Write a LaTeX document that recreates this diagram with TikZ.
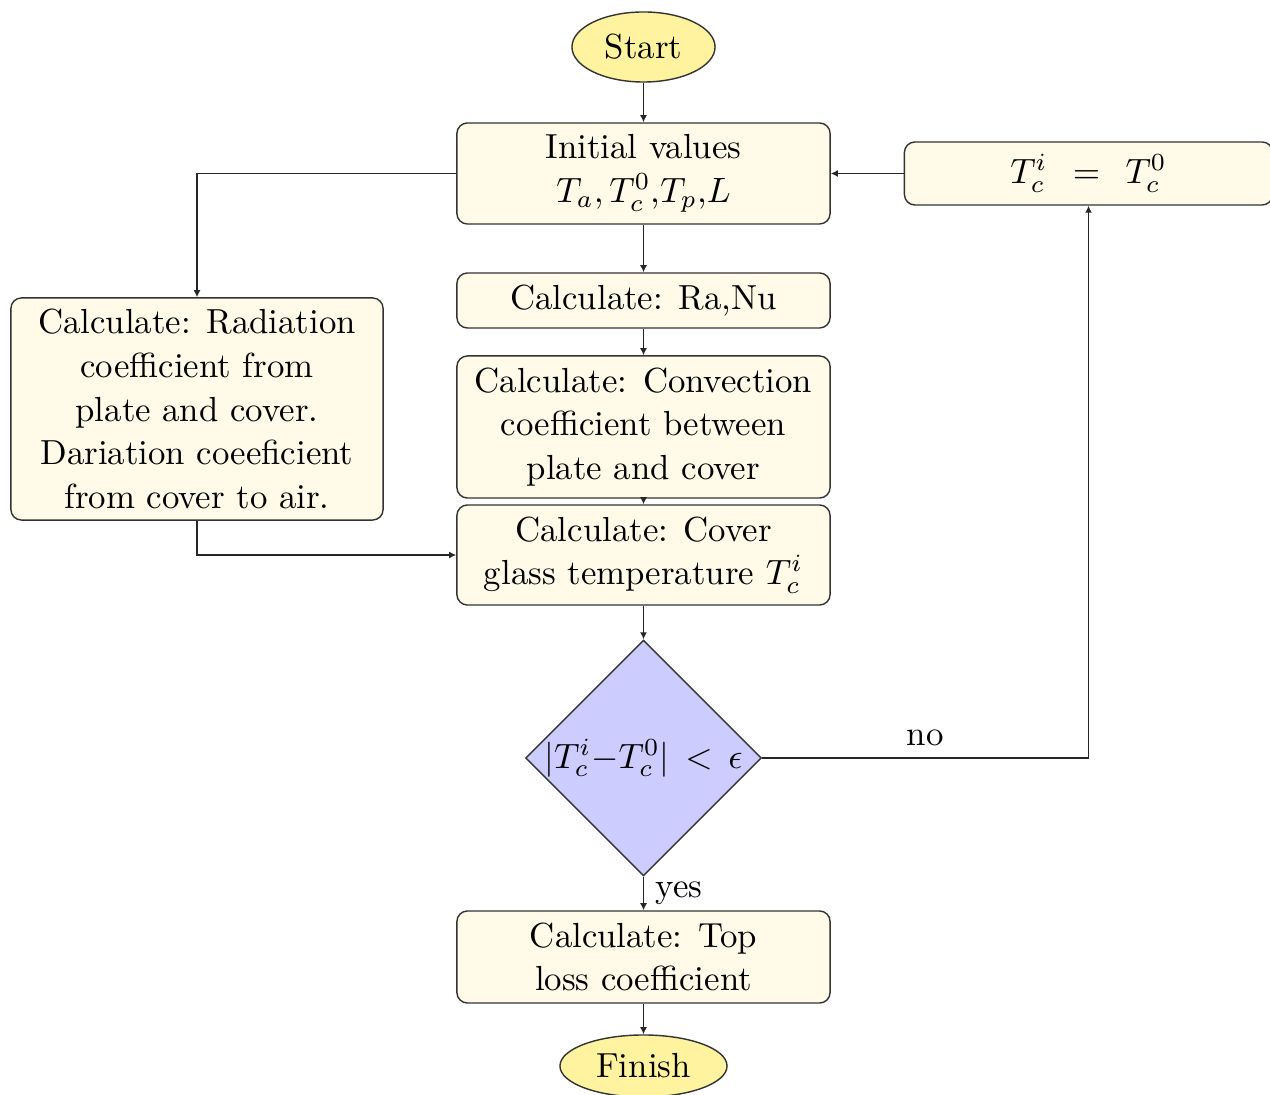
\documentclass[tikz,border=0pt]{standalone}
\usetikzlibrary{shapes.geometric,arrows.meta}
\definecolor{boxfill}{RGB}{255,251,232}
\definecolor{termfill}{RGB}{255,243,160}
\definecolor{decfill}{RGB}{204,204,255}
\begin{document}
\begin{tikzpicture}[x=0.01cm,y=-0.01cm,
  every node/.style={font=\fontsize{9.9}{12.4}\selectfont},
  proc/.style={draw=black!80, fill=boxfill, rounded corners=3pt, align=center,
               minimum width=3.73cm, inner sep=2pt},
  term/.style={draw=black!80, fill=termfill, ellipse, inner sep=0pt},
  decision/.style={draw=black!80, fill=decfill, diamond, inner sep=0pt,
               minimum width=2.31cm, minimum height=2.30cm},
  arr/.style={draw=black!85, -{Latex[length=2pt,width=2pt]}}]
\useasboundingbox (0,0) rectangle (1270,1095);

% process chain
\node[term, minimum width=1.43cm, minimum height=0.70cm] (start) at (643.5,47) {Start};
\node[proc, minimum height=1.01cm] (init) at (643.5,173.5)
  {Initial values\\$T_a, T_c^0$,$T_p$,$L$};
\node[proc, minimum height=0.55cm] (ranu) at (643.5,300.5) {Calculate: Ra,Nu};
\node[proc, minimum height=1.42cm] (conv) at (643.5,427)
  {Calculate: Convection\\coefficient between\\plate and cover};
\node[proc, minimum height=1.00cm] (cover) at (643.5,555)
  {Calculate: Cover\\glass temperature $T_c^i$};
\node[decision] (dec) at (643.5,758) {$|T_c^i{-}T_c^0| \,<\, \epsilon$};
\node[proc, minimum height=0.92cm] (top) at (643.5,957)
  {Calculate: Top\\loss coefficient};
\node[term, minimum width=1.67cm, minimum height=0.62cm] (finish) at (643.5,1066) {Finish};

% side boxes
\node[proc, minimum width=3.72cm, minimum height=2.22cm] (rad) at (197,409)
  {Calculate: Radiation\\coefficient from\\plate and cover.\\Dariation coeeficient\\from cover to air.};
\node[proc, minimum width=3.68cm, minimum height=0.63cm] (reset) at (1088.5,173.5)
  {$T_c^i\;\,=\;\,T_c^0$};

% connectors
\draw[arr] (start) -- (init);
\draw[arr] (init) -- (ranu);
\draw[arr] (ranu) -- (conv);
\draw[arr] (conv) -- (cover);
\draw[arr] (cover) -- (dec);
\draw[arr] (dec) -- node[right] {yes} (top);
\draw[arr] (top) -- (finish);
\draw[arr] (dec.east) -| node[pos=0.25, above] {no} (reset.south);
\draw[arr] (reset) -- (init);
\draw[arr] (init.west) -| (rad.north);
\draw[arr] (rad.south) |- (cover.west);
\end{tikzpicture}
\end{document}
